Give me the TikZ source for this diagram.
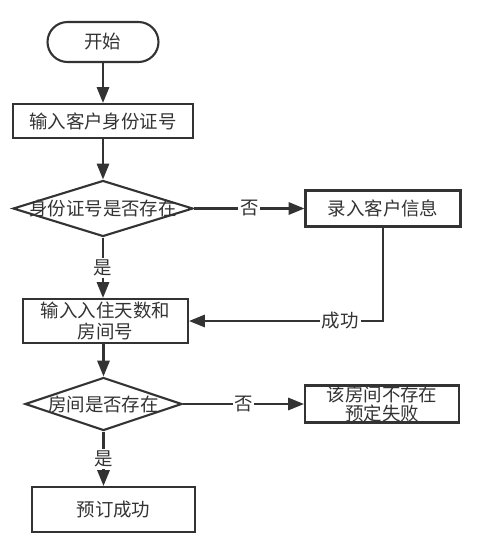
\documentclass[tikz,border=0pt]{standalone}
\usepackage{fontspec}
\setmainfont{Noto Sans CJK SC}
\usetikzlibrary{shapes.geometric, arrows.meta}
\definecolor{linegray}{HTML}{333333}

\begin{document}
\begin{tikzpicture}[x=0.02cm, y=-0.02cm, line width=1.2pt, color=linegray,
    font=\fontsize{10.5}{11.5}\selectfont, >={Triangle[length=9pt, width=7pt]}]

    \useasboundingbox (0,0) rectangle (484,542);

    % Nodes
    \node (start) at (103,42) [draw, rectangle, rounded corners=0.4cm, minimum width=2.22cm, minimum height=0.8cm] {开始};
    \node (idin) at (103,121) [draw, rectangle, minimum width=3.6cm, minimum height=0.68cm] {输入客户身份证号};
    \node (idchk) at (103,208.5) [draw, diamond, inner sep=0pt, minimum width=3.6cm, minimum height=1.12cm] {\makebox[0pt]{身份证号是否存在}};
    \node (newcust) at (383,208.5) [draw, rectangle, minimum width=3.1cm, minimum height=0.72cm] {录入客户信息};
    \node (days) at (105.5,321) [draw, rectangle, align=center, inner sep=1pt, minimum width=3.3cm, minimum height=0.88cm] {输入入住天数和\\房间号};
    \node (roomchk) at (103.5,404) [draw, diamond, inner sep=0pt, minimum width=3.14cm, minimum height=1.06cm] {\makebox[0pt]{房间是否存在}};
    \node (fail) at (382,404) [draw, rectangle, align=center, inner sep=0pt, minimum width=3.08cm, minimum height=0.74cm, font=\fontsize{10.5}{10.5}\selectfont] {该房间不存在\\预定失败};
    \node (done) at (113.5,509.5) [draw, rectangle, minimum width=3.26cm, minimum height=0.9cm] {预订成功};

    % Arrows
    \draw[->] (start) -- (idin);
    \draw[->] (idin) -- (idchk);
    \draw[->] (idchk.east) -- node[fill=white, inner sep=1pt] {否} (idchk.east -| newcust.west);
    \draw[->] (idchk.south) -- node[fill=white, inner sep=1pt] {是} (idchk.south |- days.north);
    \draw[->] (newcust.south) |- node[pos=0.61, fill=white, inner sep=1pt] {成功} (days.east);
    \draw[->] (days.south -| roomchk.north) -- (roomchk.north);
    \draw[->] (roomchk.east) -- node[fill=white, inner sep=1pt] {否} (roomchk.east -| fail.west);
    \draw[->] (roomchk.south) -- node[fill=white, inner sep=1pt] {是} (roomchk.south |- done.north);
\end{tikzpicture}
\end{document}
